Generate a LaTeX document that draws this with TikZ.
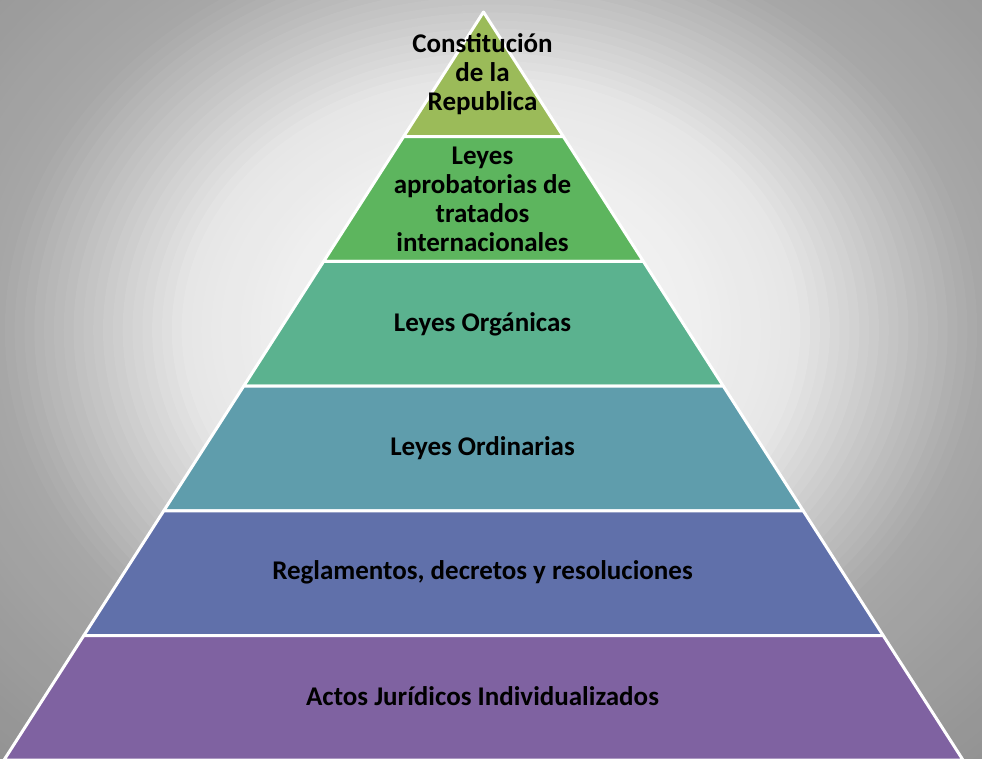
\documentclass[tikz,border=0pt]{standalone}
\usepackage{fontspec}
\setmainfont{Carlito}
\usepackage{xcolor}
\usetikzlibrary{calc}
\definecolor{tierolive}{RGB}{155, 187, 89}
\definecolor{tiergreen}{RGB}{93, 181, 94}
\definecolor{tierjade}{RGB}{91, 178, 143}
\definecolor{tierteal}{RGB}{95, 157, 172}
\definecolor{tierblue}{RGB}{96, 112, 170}
\definecolor{tierviolet}{RGB}{127, 98, 161}
\tikzset{
  tier/.style={draw=white, line width=3pt, line join=round},
  tierlabel/.style={font=\fontsize{27}{29}\selectfont\bfseries, align=center, text=black, inner sep=0pt}
}

\begin{document}
\begin{tikzpicture}[x=1pt, y=-1pt]
        \useasboundingbox (0,0) rectangle (982,758);
        % Backdrop: grey fading to white towards the middle
        \begin{scope}
            \clip (0,0) rectangle (982,758);
            \foreach \r in {76,75,...,0}{
                \pgfmathsetmacro{\g}{ifthenelse(\r<22, 250-0.545*\r, ifthenelse(\r<31, 238-0.889*(\r-22), ifthenelse(\r<44, 230-3.385*(\r-31), ifthenelse(\r<50, 186-3.167*(\r-44), ifthenelse(\r<60, 167-0.9*(\r-50), 158-0.833*(\r-60))))))}
                \pgfmathsetmacro{\gl}{\g/255}
                \pgfmathsetmacro{\rx}{9.82*\r+5}
                \pgfmathsetmacro{\ry}{8.04*\r+4}
                \definecolor{ring}{gray}{\gl}
                \fill[ring] (491,330) ellipse [x radius=\rx pt, y radius=\ry pt];
            }
        \end{scope}

        % Pyramid tiers, apex to base
        \foreach \i/\col in {0/tierolive,1/tiergreen,2/tierjade,3/tierteal,4/tierblue,5/tierviolet}{
            \pgfmathsetmacro{\yt}{12+124.7*\i}
            \pgfmathsetmacro{\yb}{12+124.7*(\i+1)}
            \pgfmathsetmacro{\ht}{0.641*(\yt-12)}
            \pgfmathsetmacro{\hb}{0.641*(\yb-12)}
            \draw[tier, fill=\col] (483.5-\ht,\yt) -- (483.5+\ht,\yt) -- (483.5+\hb,\yb) -- (483.5-\hb,\yb) -- cycle;
        }

        % Labels
        \node[tierlabel] (constitucion) at (482.5,74) {Constitución\\de la\\Republica};
        \node[tierlabel] (tratados) at (482.5,199) {Leyes\\aprobatorias de\\tratados\\internacionales};
        \node[tierlabel] (organicas) at (482.5,324) {Leyes Orgánicas};
        \node[tierlabel] (ordinarias) at (482.5,448) {Leyes Ordinarias};
        \node[tierlabel] (reglamentos) at (482.5,572) {Reglamentos, decretos y resoluciones};
        \node[tierlabel] (actos) at (482.5,696) {Actos Jurídicos Individualizados};
    \end{tikzpicture}
\end{document}
